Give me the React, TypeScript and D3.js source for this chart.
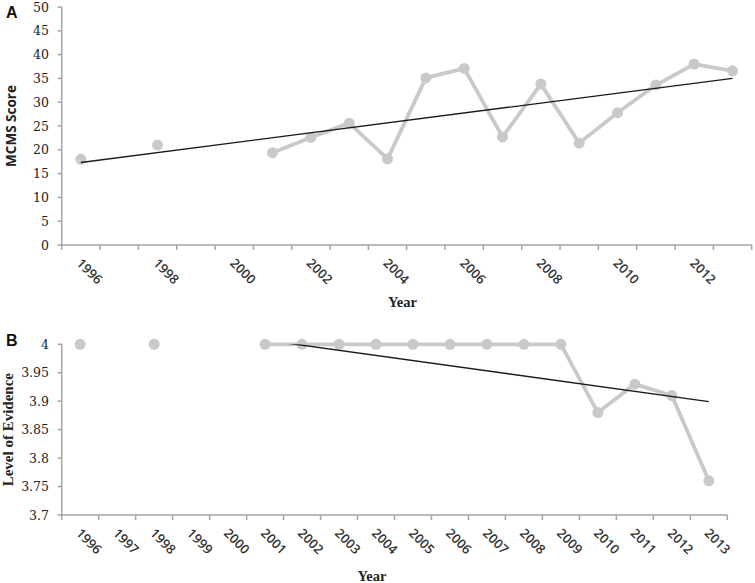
import React from "react";
import * as d3 from "d3";

const years = ["1996","1997","1998","1999","2000","2001","2002","2003","2004","2005","2006","2007","2008","2009","2010","2011","2012","2013"];
const mcmsScore: (number | null)[] = [18.0, null, 21.0, null, null, 19.4, 22.6, 25.6, 18.1, 35.1, 37.1, 22.7, 33.8, 21.4, 27.8, 33.6, 38.0, 36.6];
const levelEvidence: (number | null)[] = [4, null, 4, null, null, 4, 4, 4, 4, 4, 4, 4, 4, 4, 3.88, 3.93, 3.91, 3.76];
const yTicksA = [0, 5, 10, 15, 20, 25, 30, 35, 40, 45, 50];
const yTicksB = [3.7, 3.75, 3.8, 3.85, 3.9, 3.95, 4];
const xLabelsA = ["1996","1998","2000","2002","2004","2006","2008","2010","2012"];
const xLabelsB = years;

const POINT = "#c9c9c9";
const AXIS = "#a3a3a3";
const TREND = "#1a1a1a";
const SERIF = "'DejaVu Serif', serif";
const TSERIF = "'Liberation Serif', serif";
const SANS = "'Open Sans', sans-serif";

function regression(vals: (number | null)[]) {
  const pts = vals.map((v, i) => [i + 1, v] as [number, number | null]).filter((p) => p[1] != null) as [number, number][];
  const mx = d3.mean(pts, (p) => p[0])!;
  const my = d3.mean(pts, (p) => p[1])!;
  const sxy = d3.sum(pts, (p) => (p[0] - mx) * (p[1] - my));
  const sxx = d3.sum(pts, (p) => (p[0] - mx) ** 2);
  const b = sxy / sxx;
  return (x: number) => my + b * (x - mx);
}

type PanelProps = {
  id: string;
  letter: string;
  letterY: number;
  values: (number | null)[];
  x0: number;
  x1: number;
  yTop: number;
  yBot: number;
  yDomain: [number, number];
  yTicks: number[];
  yFmt: (v: number) => string;
  xLabels: string[];
  yTitle: string;
  yTitleFont: string;
  yTitleSize: number;
  yTitleX: number;
  xTitleX: number;
  xTitleY: number;
};

function Panel(p: PanelProps) {
  const x = d3.scaleBand<string>().domain(years).range([p.x0, p.x1]).padding(0);
  const bw = x.bandwidth();
  const cx = (yr: string) => x(yr)! + bw / 2;
  const y = d3.scaleLinear().domain(p.yDomain).range([p.yBot, p.yTop]);
  const pts = years.map((yr, i) => ({ yr, v: p.values[i] }));
  const line = d3
    .line<{ yr: string; v: number | null }>()
    .defined((d) => d.v != null)
    .x((d) => cx(d.yr))
    .y((d) => y(d.v as number));
  const reg = regression(p.values);
  const trend = [0, years.length - 1].map((i) => ({ yr: years[i], v: reg(i + 1) }));
  const trendLine = d3
    .line<{ yr: string; v: number }>()
    .x((d) => cx(d.yr))
    .y((d) => y(d.v));
  const boundaries = [...years.map((yr) => x(yr)!), p.x1];
  const clipId = "clip" + p.id;
  return (
    <g>
      <defs>
        <clipPath id={clipId}>
          <rect x={p.x0} y={p.yTop} width={p.x1 - p.x0} height={p.yBot - p.yTop} />
        </clipPath>
      </defs>
      <text x={6} y={p.letterY} fontFamily="'Liberation Sans', Arial, sans-serif" fontWeight="bold" fontSize={16} fill="#111">
        {p.letter}
      </text>
      <line x1={p.x0} x2={p.x0} y1={p.yTop} y2={p.yBot} stroke={AXIS} strokeWidth={1.5} />
      {p.yTicks.map((t) => (
        <g key={t}>
          <line x1={p.x0 - 4} x2={p.x0} y1={y(t)} y2={y(t)} stroke={AXIS} strokeWidth={1.5} />
          <text x={49} y={y(t)} dy="0.36em" textAnchor="end" fontFamily={SERIF} fontSize={12.5} fill="#222">
            {p.yFmt(t)}
          </text>
        </g>
      ))}
      <line x1={p.x0} x2={p.x1} y1={p.yBot} y2={p.yBot} stroke={AXIS} strokeWidth={1.5} />
      {boundaries.map((bx, i) => (
        <line key={i} x1={bx} x2={bx} y1={p.yBot} y2={p.yBot + 5} stroke={AXIS} strokeWidth={1.5} />
      ))}
      {p.xLabels.map((lab) => (
        <text
          key={lab}
          transform={`translate(${cx(lab) - 5},${p.yBot + 19}) rotate(45)`}
          fontFamily={SANS}
          fontWeight={600}
          fontSize={13}
          fill="#333"
        >
          {lab}
        </text>
      ))}
      <path d={line(pts) || ""} fill="none" stroke={POINT} strokeWidth={3.8} strokeLinejoin="round" />
      {pts
        .filter((d) => d.v != null)
        .map((d) => (
          <circle key={d.yr} cx={cx(d.yr)} cy={y(d.v as number)} r={5.5} fill={POINT} />
        ))}
      <path d={trendLine(trend) || ""} fill="none" stroke={TREND} strokeWidth={1.4} clipPath={`url(#${clipId})`} />
      <text
        transform={`translate(${p.yTitleX},${(p.yTop + p.yBot) / 2}) rotate(-90)`}
        textAnchor="middle"
        dominantBaseline="central"
        fontFamily={p.yTitleFont}
        fontWeight="bold"
        fontSize={p.yTitleSize}
        fill="#222"
      >
        {p.yTitle}
      </text>
      <text x={p.xTitleX} y={p.xTitleY} textAnchor="middle" fontFamily={TSERIF} fontWeight="bold" fontSize={14.5} fill="#222">
        Year
      </text>
    </g>
  );
}

export default function App() {
  return (
    <svg width={755} height={583} style={{ position: "absolute", left: 0, top: 0, background: "#fff" }}>
      <rect width={755} height={583} fill="#fff" />
      <Panel
        id="A"
        letter="A"
        letterY={17.5}
        values={mcmsScore}
        x0={61.7}
        x1={751.7}
        yTop={7}
        yBot={245}
        yDomain={[0, 50]}
        yTicks={yTicksA}
        yFmt={(v) => String(v)}
        xLabels={xLabelsA}
        yTitle="MCMS Score"
        yTitleFont={SANS}
        yTitleSize={13.5}
        yTitleX={11}
        xTitleX={402.5}
        xTitleY={307}
      />
      <Panel
        id="B"
        letter="B"
        letterY={346}
        values={levelEvidence}
        x0={61.7}
        x1={727.3}
        yTop={344.3}
        yBot={515}
        yDomain={[3.7, 4]}
        yTicks={yTicksB}
        yFmt={(v) => d3.format("~g")(+v.toFixed(2))}
        xLabels={xLabelsB}
        yTitle="Level of Evidence"
        yTitleFont={TSERIF}
        yTitleSize={15}
        yTitleX={8}
        xTitleX={372}
        xTitleY={581}
      />
    </svg>
  );
}
